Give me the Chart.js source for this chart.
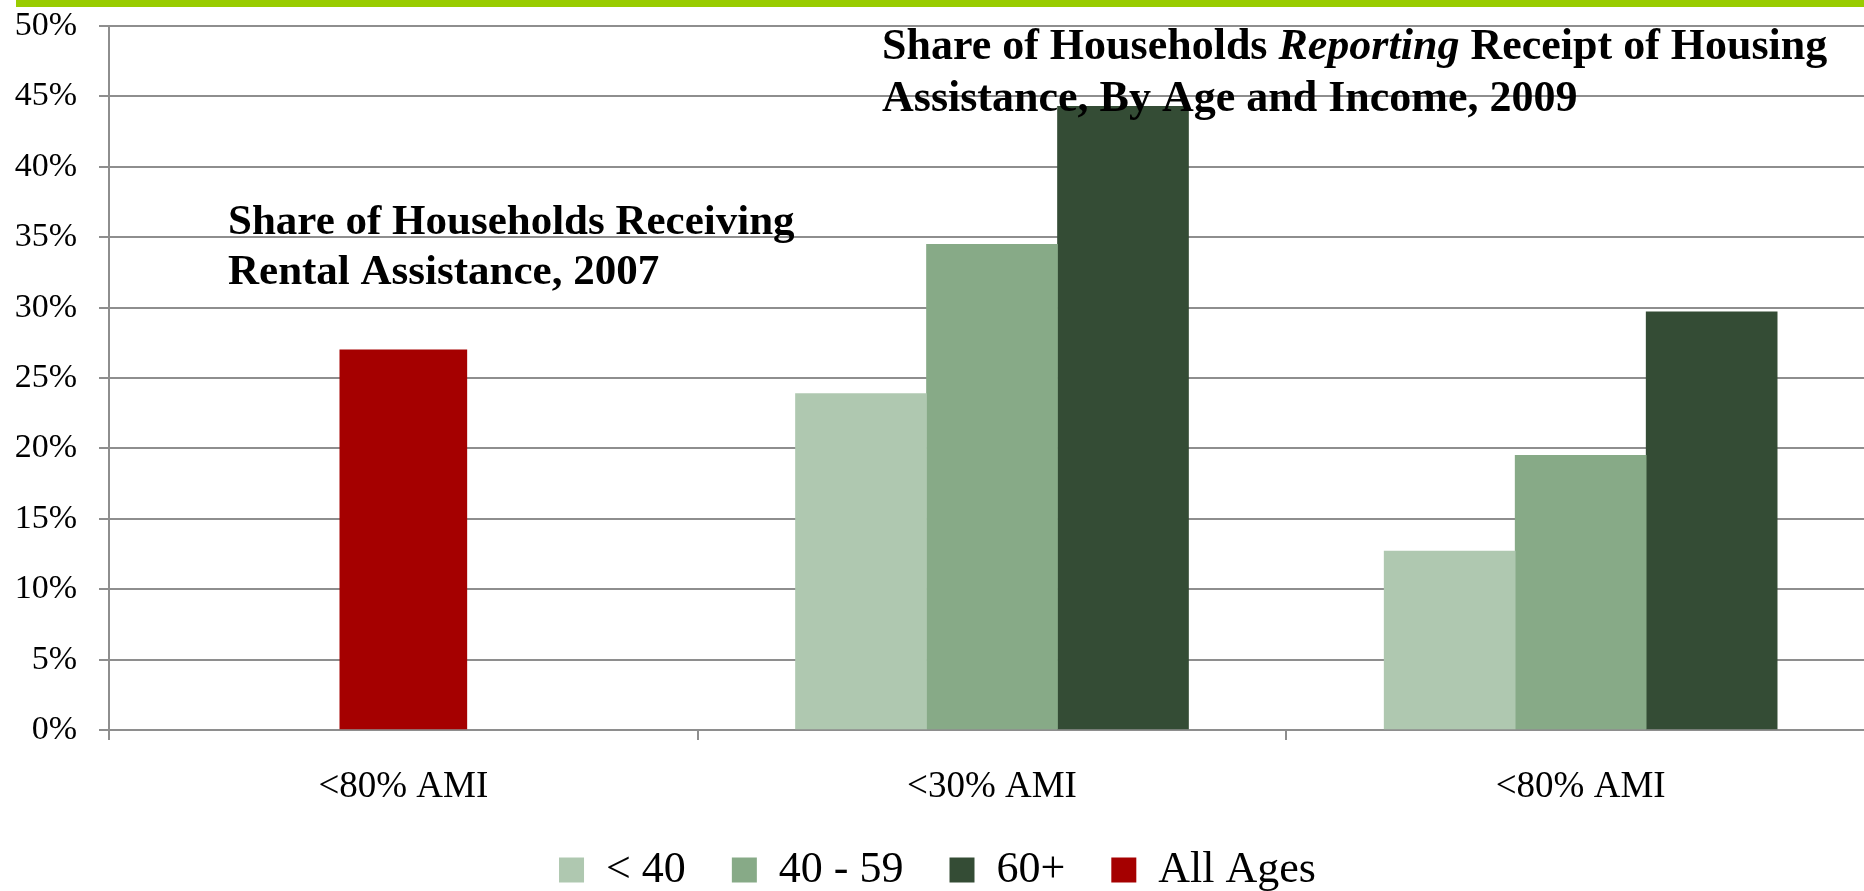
<!DOCTYPE html>
<html>
<head>
<meta charset="utf-8">
<script src="https://cdn.jsdelivr.net/npm/chart.js@4.4.0/dist/chart.umd.min.js"></script>
<style>
	html, body { margin: 0; padding: 0; background: #fff; overflow: hidden; }
	#frame { position: relative; width: 1875px; height: 902px; }
	#topline { position: absolute; left: 16px; top: 0; width: 1864px; height: 7px; background: #99cc00; }
</style>
</head>
<body>
<div id="frame">
	<canvas id="myChart"></canvas>
	<div id="topline"></div>
</div>
<script>
const categories = ['<80% AMI', '<30% AMI', '<80% AMI']

// values in percent, null where a group has no bar
const under40 = [null, 23.9, 12.7]
const age40to59 = [null, 34.5, 19.5]
const age60plus = [null, 44.3, 29.7]
const allAges = [27.0, null, null]

const seriesNames = ['< 40', '40 - 59', '60+', 'All Ages']
const seriesColors = ['#afc8b0', '#87aa87', '#344c35', '#a50000']

const yMin = 0
const yMax = 50
const yStep = 5

const leftTitle = ['Share of Households Receiving', 'Rental Assistance, 2007']
const rightTitle = [
	[['', 'Share of Households '], ['italic', 'Reporting'], ['', ' Receipt of Housing']],
	[['', 'Assistance, By Age and Income, 2009']]
]

const serif = 'Liberation Serif'
const gridColor = '#8e8e8e'

function drawRuns(ctx, x, y, size, runs) {
	for (const [style, text] of runs) {
		ctx.font = `${style} bold ${size}px "${serif}"`
		ctx.fillText(text, x, y)
		x += ctx.measureText(text).width
	}
}

const titlePlugin = {
	id: 'titles',
	afterDraw(chart) {
		const ctx = chart.ctx
		ctx.save()
		ctx.fillStyle = '#000'
		ctx.textAlign = 'left'
		ctx.textBaseline = 'alphabetic'

		drawRuns(ctx, 228, 234, 43, [['', leftTitle[0]]])
		drawRuns(ctx, 228, 284, 43, [['', leftTitle[1]]])

		drawRuns(ctx, 882, 59, 44, rightTitle[0])
		drawRuns(ctx, 882, 111, 44, rightTitle[1])
		ctx.restore()
	}
}

const values = [under40, age40to59, age60plus, allAges]

const datasets = values.map((data, i) => ({
	label: seriesNames[i],
	data,
	backgroundColor: seriesColors[i],
	borderWidth: 0,
	skipNull: true,
	barThickness: i === 3 ? 127 : 131
}))

new Chart(document.getElementById('myChart'), {
	type: 'bar',
	data: { labels: categories, datasets },
	plugins: [titlePlugin],
	options: {
		responsive: true,
		maintainAspectRatio: false,
		animation: false,
		layout: { padding: { top: 26, right: 0, bottom: 0, left: 0 } },
		plugins: {
			tooltip: { enabled: false },
			legend: {
				position: 'bottom',
				labels: {
					boxWidth: 25,
					boxHeight: 25,
					padding: 46,
					color: '#000',
					font: { family: serif, size: 44 }
				}
			}
		},
		scales: {
			x: {
				grid: {
					offset: true,
					drawOnChartArea: false, // only the little tick marks between groups
					drawTicks: true,
					tickLength: 10,
					color: gridColor,
					lineWidth: 2
				},
				border: { display: false },
				ticks: {
					color: '#000',
					padding: 25,
					maxRotation: 0,
					font: { family: serif, size: 37 }
				},
				afterFit(scale) { scale.height = 72 }
			},
			y: {
				min: yMin,
				max: yMax,
				grid: { color: gridColor, lineWidth: 2, tickLength: 10 },
				border: { color: gridColor, width: 2 },
				ticks: {
					stepSize: yStep,
					padding: 22,
					color: '#000',
					font: { family: serif, size: 34 },
					callback: v => v + '%'
				},
				afterFit(scale) {
					scale.width = 109
					// the 50% label may stick out above the plot, like the original
					scale.paddingTop = 0
					scale.paddingBottom = 0
				}
			}
		}
	}
})
</script>
</body>
</html>
